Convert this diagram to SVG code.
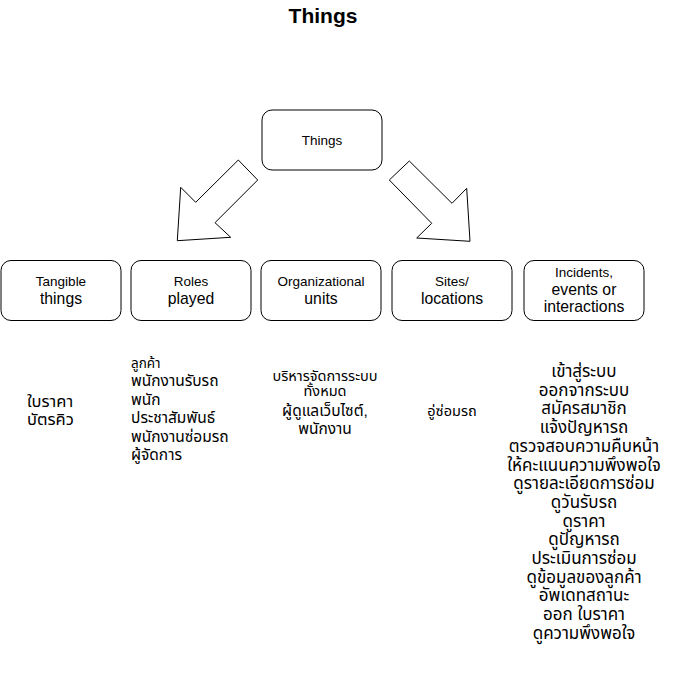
<svg xmlns="http://www.w3.org/2000/svg" width="678" height="691" viewBox="0 0 678 691">
<style>
.box{fill:#fff;stroke:#000;stroke-width:1}
.arr{fill:#fff;stroke:#000;stroke-width:1;stroke-linejoin:miter}
text{font-family:"Liberation Sans","Noto Sans Thai","Noto Sans",sans-serif;fill:#000}
.s{font-size:13.5px}
.b{font-size:15.75px}
.th{font-size:15.5px}
.ths{font-size:13.5px}
.thl{font-size:17px}
.title{font-size:21px;font-weight:bold}
</style>
<rect width="678" height="691" fill="#fff"/>
<text class="title" x="323" y="22.5" text-anchor="middle">Things</text>
<g id="connectors">
<polygon class="arr" points="238.3,160 257.7,180 215,222.7 230.7,237.3 177.3,240.7 180.7,187.3 195.7,202.3"/>
<polygon class="arr" points="409.3,161 389.3,180 431.7,223.3 416.7,238 470,241.3 466.7,188.3 452,203.3"/>
</g>
<g id="things">
<rect class="box" x="262" y="110" width="120" height="60" rx="10"/>
<text class="s" x="322" y="145" text-anchor="middle">Things</text>
</g>
<g id="tangible">
<rect class="box" x="1" y="260.5" width="120" height="60" rx="10"/>
<text x="61" text-anchor="middle"><tspan class="s" x="61" y="286">Tangible</tspan><tspan class="b" x="61" y="304">things</tspan></text>
</g>
<g id="roles">
<rect class="box" x="131" y="260.5" width="120" height="60" rx="10"/>
<text x="191" text-anchor="middle"><tspan class="s" x="191" y="286">Roles</tspan><tspan class="b" x="191" y="304">played</tspan></text>
</g>
<g id="org">
<rect class="box" x="261" y="260.5" width="120" height="60" rx="10"/>
<text x="321" text-anchor="middle"><tspan class="s" x="321" y="286">Organizational</tspan><tspan class="b" x="321" y="304">units</tspan></text>
</g>
<g id="sites">
<rect class="box" x="392" y="260.5" width="120" height="60" rx="10"/>
<text x="452" text-anchor="middle"><tspan class="s" x="452" y="286">Sites/</tspan><tspan class="b" x="452" y="304">locations</tspan></text>
</g>
<g id="incidents">
<rect class="box" x="524" y="260.5" width="120" height="60" rx="10"/>
<text x="584" text-anchor="middle"><tspan class="s" x="584" y="277">Incidents,</tspan><tspan class="b" x="584" y="294.5">events or</tspan><tspan class="b" x="584" y="311.5">interactions</tspan></text>
</g>
<g id="col1">
<text style="font-size:16.5px"><tspan x="27" y="407">ใบราคา</tspan><tspan x="27" y="425">บัตรคิว</tspan></text>
</g>
<g id="col2">
<text class="th"><tspan class="ths" x="131" y="368">ลูกค้า</tspan><tspan x="131" y="386">พนักงานรับรถ</tspan><tspan x="131" y="404.5">พนัก</tspan><tspan x="131" y="423">ประชาสัมพันธ์</tspan><tspan x="131" y="441.5">พนักงานซ่อมรถ</tspan><tspan x="131" y="460">ผู้จัดการ</tspan></text>
</g>
<g id="col3">
<text class="th" text-anchor="middle"><tspan style="font-size:14.5px" x="325" y="381">บริหารจัดการระบบ</tspan><tspan style="font-size:14.5px" x="325" y="396">ทั้งหมด</tspan><tspan x="325" y="416">ผู้ดูแลเว็บไซต์,</tspan><tspan x="325" y="434">พนักงาน</tspan></text>
</g>
<g id="col4">
<text style="font-size:14.5px" x="452" y="416" text-anchor="middle">อู่ซ่อมรถ</text>
</g>
<g id="col5">
<text class="thl" text-anchor="middle"><tspan x="584" y="377">เข้าสู่ระบบ</tspan><tspan x="584" y="395.7">ออกจากระบบ</tspan><tspan x="584" y="414.4">สมัครสมาชิก</tspan><tspan x="584" y="433.1">แจ้งปัญหารถ</tspan><tspan x="584" y="451.8">ตรวจสอบความคืบหน้า</tspan><tspan x="584" y="470.5">ให้คะแนนความพึงพอใจ</tspan><tspan x="584" y="489.2">ดูรายละเอียดการซ่อม</tspan><tspan x="584" y="507.9">ดูวันรับรถ</tspan><tspan x="584" y="526.6">ดูราคา</tspan><tspan x="584" y="545.3">ดูปัญหารถ</tspan><tspan x="584" y="564">ประเมินการซ่อม</tspan><tspan x="584" y="582.7">ดูข้อมูลของลูกค้า</tspan><tspan x="584" y="601.4">อัพเดทสถานะ</tspan><tspan x="584" y="620.1">ออก ใบราคา</tspan><tspan x="584" y="638.8">ดูความพึงพอใจ</tspan></text>
</g>
</svg>
